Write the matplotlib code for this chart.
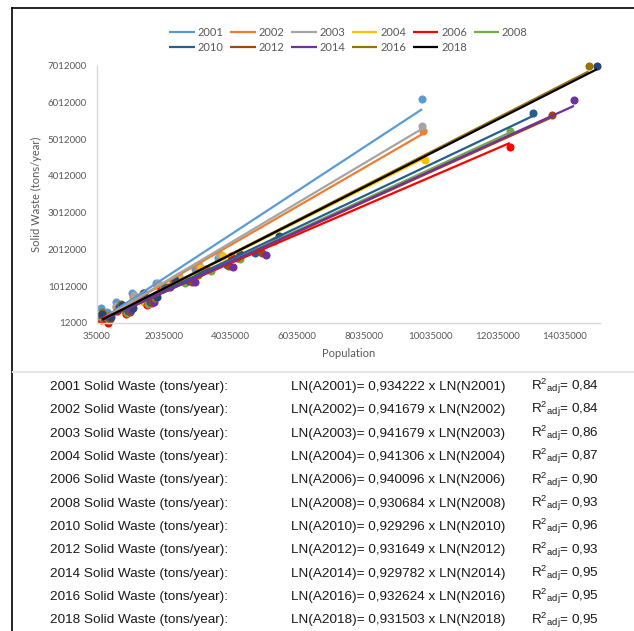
import numpy as np
import matplotlib
matplotlib.use('Agg')
import matplotlib.pyplot as plt
from matplotlib.lines import Line2D

# Years and colours (Excel palette)
years = [2001, 2002, 2003, 2004, 2006, 2008, 2010, 2012, 2014, 2016, 2018]
point_colors = ['#5B9BD5', '#ED7D31', '#A5A5A5', '#FFC000', '#FF0000', '#70AD47',
                '#255E91', '#9E480E', '#7030A0', '#997300', '#264478']
line_colors = ['#5B9BD5', '#ED7D31', '#A5A5A5', '#FFC000', '#FF0000', '#70AD47',
               '#255E91', '#9E480E', '#7030A0', '#997300', '#000000']

# Population / solid waste per city
pop_2001 = [150000, 350000, 600000, 850000, 1100000, 1400000, 1800000, 2400000, 2970000, 3680000, 9775000]
waste_2001 = [400000, 299000, 582000, 475000, 828000, 691000, 1096000, 1230000, 1477000, 1770000, 6107000]
pop_2002 = [153000, 357000, 612000, 867000, 1122000, 1428000, 1836000, 2448000, 3060000, 3750000, 9800000]
waste_2002 = [219000, 135000, 438000, 351000, 723000, 611000, 1048000, 1229000, 1537000, 1870000, 5230000]
pop_2003 = [156000, 364000, 624000, 884000, 1144000, 1456000, 1872000, 2496000, 3100000, 3700000, 9780000]
waste_2003 = [232000, 151000, 459000, 377000, 754000, 647000, 1092000, 1285000, 1594000, 1889000, 5380000]
pop_2004 = [159000, 371000, 636000, 901000, 1166000, 1484000, 1908000, 2544000, 3150000, 3810000, 9850000]
waste_2004 = [112000, 33000, 343000, 263000, 643000, 539000, 987000, 1186000, 1496000, 1820000, 4445000]
pop_2006 = [163500, 381500, 654000, 926500, 1199000, 1526000, 1962000, 2616000, 3300000, 4050000, 12400000]
waste_2006 = [99000, 17000, 323000, 240000, 616000, 507000, 949000, 1139000, 1469000, 1816000, 4810000]
pop_2008 = [168000, 392000, 672000, 952000, 1232000, 1568000, 2016000, 2688000, 3470000, 4310000, 12420000]
waste_2008 = [180000, 87000, 379000, 281000, 643000, 517000, 936000, 1092000, 1417000, 1753000, 5230000]
pop_2010 = [174000, 406000, 696000, 986000, 1276000, 1624000, 2088000, 2784000, 3950000, 4770000, 13080000]
waste_2010 = [230000, 136000, 427000, 329000, 690000, 563000, 981000, 1135000, 1596000, 1910000, 5730000]
pop_2012 = [180000, 420000, 720000, 1020000, 1320000, 1680000, 2160000, 2880000, 4000000, 4970000, 13660000]
waste_2012 = [214000, 121000, 413000, 315000, 678000, 552000, 972000, 1128000, 1561000, 1924000, 5680000]
pop_2014 = [186000, 434000, 744000, 1054000, 1364000, 1736000, 2232000, 2976000, 4110000, 5100000, 14320000]
waste_2014 = [286000, 186000, 470000, 364000, 718000, 583000, 989000, 1126000, 1520000, 1852000, 6070000]
pop_2016 = [192000, 448000, 768000, 1088000, 1408000, 1792000, 2304000, 3072000, 4220000, 5350000, 14760000]
waste_2016 = [296000, 213000, 518000, 433000, 808000, 698000, 1138000, 1325000, 1787000, 2229000, 7010000]
pop_2018 = [198000, 462000, 792000, 1122000, 1452000, 1848000, 2376000, 3168000, 4320000, 5500000, 15010000]
waste_2018 = [248000, 175000, 493000, 421000, 809000, 715000, 1176000, 1394000, 1889000, 2382000, 7010000]

pops = [pop_2001, pop_2002, pop_2003, pop_2004, pop_2006, pop_2008,
        pop_2010, pop_2012, pop_2014, pop_2016, pop_2018]
wastes = [waste_2001, waste_2002, waste_2003, waste_2004, waste_2006, waste_2008,
          waste_2010, waste_2012, waste_2014, waste_2016, waste_2018]

# Regression table below the chart
coefs = [0.934222, 0.941679, 0.941679, 0.941306, 0.940096, 0.930684,
         0.929296, 0.931649, 0.929782, 0.932624, 0.931503]
r2_adj = [0.84, 0.84, 0.86, 0.87, 0.90, 0.93, 0.96, 0.93, 0.95, 0.95, 0.95]

plt.rcParams['font.family'] = ['Lato', 'DejaVu Sans']
plt.rcParams['mathtext.default'] = 'regular'
grey = '#595959'

W, H = 634, 631
fig = plt.figure(figsize=(W / 100, H / 100), dpi=100)
ax = fig.add_axes([96.7 / W, 1 - 322.7 / H, (600 - 96.7) / W, (322.7 - 65.8) / H])

# Points
for pop, waste, col in zip(pops, wastes, point_colors):
    ax.scatter(pop, waste, s=34, color=col, linewidths=0, zorder=2, clip_on=False)

# Linear trendlines
handles = {}
for yr, pop, waste, col in zip(years, pops, wastes, line_colors):
    k, b = np.polyfit(pop, waste, 1)
    xs = np.array([min(pop), max(pop)])
    ln, = ax.plot(xs, k * xs + b, color=col, lw=1.6, zorder=3, solid_capstyle='butt')
    handles[yr] = ln

ax.set_xlim(35000, 15100000)
ax.set_ylim(12000, 7012000)
ax.set_xticks(np.arange(35000, 15000000, 2000000))
ax.set_yticks(np.arange(12000, 7100000, 1000000))
ax.xaxis.set_major_formatter(lambda v, p: f'{v:.0f}')
ax.yaxis.set_major_formatter(lambda v, p: f'{v:.0f}')
ax.tick_params(length=0, labelsize=7, labelcolor=grey)
ax.tick_params(axis='x', pad=6.5)
ax.tick_params(axis='y', pad=7)
for s in ['top', 'right']:
    ax.spines[s].set_visible(False)
for s in ['left', 'bottom']:
    ax.spines[s].set_color('#d9d9d9')
    ax.spines[s].set_linewidth(1)

ax.set_xlabel('Population', fontsize=8, color=grey)
ax.set_ylabel('Solid Waste (tons/year)', fontsize=8, color=grey)
ax.xaxis.set_label_coords(0.501, -0.097)
ax.yaxis.set_label_coords(-0.109, 0.5)

# Legend: 6 columns, filled row by row
order = [2001, 2010, 2002, 2012, 2003, 2014, 2004, 2016, 2006, 2018, 2008]
fig.legend([handles[y] for y in order], [str(y) for y in order], ncol=6,
           loc='center', bbox_to_anchor=(348.5 / W, 1 - 40 / H), frameon=False,
           fontsize=8, labelcolor=grey, handlelength=2.3, handletextpad=0.25,
           columnspacing=0.6, labelspacing=0.35)

# Frame lines
fig.add_artist(Line2D([12 / W, 12 / W], [0, 1 - 8 / H], transform=fig.transFigure,
                      color='black', lw=1.2))
fig.add_artist(Line2D([12 / W, 1], [1 - 8 / H, 1 - 8 / H], transform=fig.transFigure,
                      color='black', lw=1.2))
fig.add_artist(Line2D([13 / W, 633 / W], [1 - 372 / H, 1 - 372 / H], transform=fig.transFigure,
                      color='#e6e6e6', lw=1.5))

# Table of equations
tfont = dict(family=['Liberation Sans', 'DejaVu Sans'], fontsize=9.7, color='#1a1a1a', va='baseline')
for i, (yr, c, r2) in enumerate(zip(years, coefs, r2_adj)):
    y = 1 - (390 + i * 23.35) / H
    cs = f'{c:.6f}'.replace('.', ',')
    rs = f'{r2:.2f}'.replace('.', ',')
    fig.text(50 / W, y, f'{yr} Solid Waste (tons/year):', **tfont)
    fig.text(291 / W, y, f'LN(A{yr})= {cs} x LN(N{yr})', **tfont)
    fig.text(531 / W, y, r'$R^{2}{}_{adj}$= ' + rs, **tfont)

fig.savefig('out.png', dpi=100)
